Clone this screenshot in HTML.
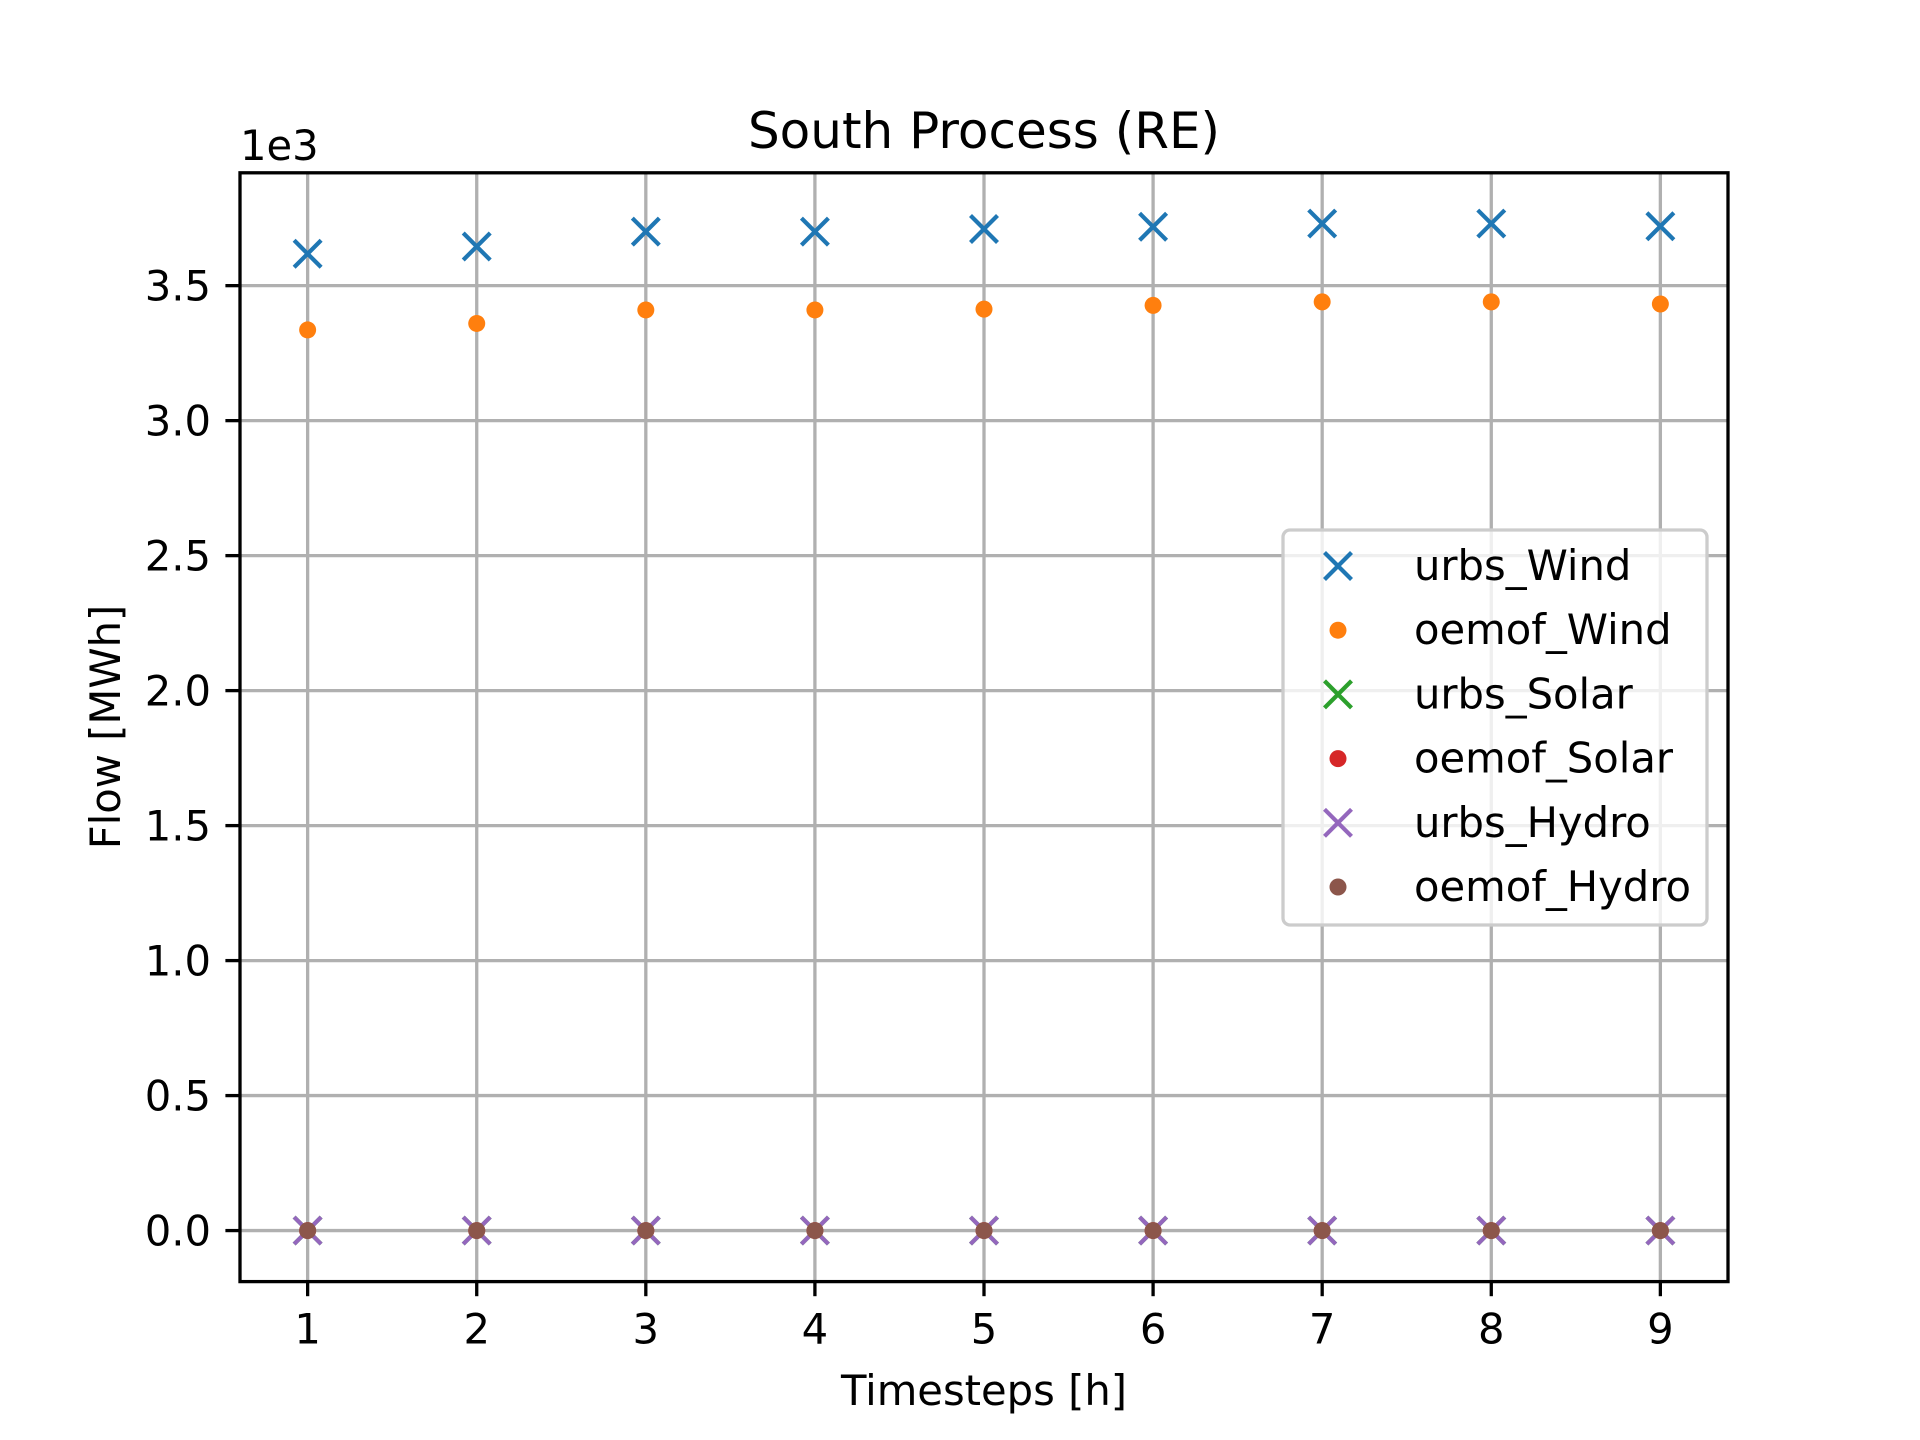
<!DOCTYPE html>
<html><head><meta charset="utf-8"><style>
html,body{margin:0;padding:0;background:#fff;}
svg{display:block;font-family:"DejaVu Sans","Liberation Sans",sans-serif;}
</style></head><body>
<svg id="chart" width="1920" height="1440" viewBox="0 0 1920 1440">
<rect x="0" y="0" width="1920" height="1440" fill="#fff"/>
<g id="grid"></g>
<g id="marks"></g>
<rect x="240" y="172.8" width="1488" height="1108.8" fill="none" stroke="#000" stroke-width="3.3"/>
<g id="ticks"></g>
<text x="984" y="148" font-size="50" text-anchor="middle">South Process (RE)</text>
<text x="240" y="160" font-size="41.7">1e3</text>
<text x="984" y="1405" font-size="41.7" text-anchor="middle">Timesteps [h]</text>
<text transform="translate(120,727) rotate(-90)" font-size="41.7" text-anchor="middle">Flow [MWh]</text>
<g id="legend"></g>
</svg>
<script>
const categories = [1,2,3,4,5,6,7,8,9];
const urbsWind = [3.618,3.645,3.70,3.70,3.71,3.718,3.73,3.73,3.72];
const oemofWind = [3.336,3.36,3.41,3.41,3.413,3.427,3.44,3.44,3.432];
const urbsSolar = [0,0,0,0,0,0,0,0,0];
const oemofSolar = [0,0,0,0,0,0,0,0,0];
const urbsHydro = [0,0,0,0,0,0,0,0,0];
const oemofHydro = [0,0,0,0,0,0,0,0,0];
const yTicks = [0,0.5,1,1.5,2,2.5,3,3.5];
const yTickLabels = ["0.0","0.5","1.0","1.5","2.0","2.5","3.0","3.5"];
const seriesNames = ["urbs_Wind","oemof_Wind","urbs_Solar","oemof_Solar","urbs_Hydro","oemof_Hydro"];

const NS="http://www.w3.org/2000/svg";
const L=240,R=1728,T=172.8,B=1281.6;
const xMin=0.6,xMax=9.4,yMin=-0.189,yMax=3.918;
function xs(v){return L+(v-xMin)/(xMax-xMin)*(R-L);}
function ys(v){return B-(v-yMin)/(yMax-yMin)*(B-T);}
function mk(tag,attrs,parent){const e=document.createElementNS(NS,tag);for(const k in attrs)e.setAttribute(k,attrs[k]);parent.appendChild(e);return e;}
const grid=document.getElementById('grid'),ticks=document.getElementById('ticks'),marks=document.getElementById('marks'),legend=document.getElementById('legend');

categories.forEach(c=>{
  const x=xs(c);
  const g=mk('line',{x1:x,x2:x,y1:T,y2:B,stroke:'#b0b0b0','stroke-width':3.3},grid);
  
  
  const t=mk('line',{x1:x,x2:x,y1:B,y2:B+14.6,stroke:'#000','stroke-width':3.3},ticks);
  
  
  const lb=mk('text',{x:x,y:B+62,'font-size':41.7,'text-anchor':'middle'},ticks);
  lb.textContent=String(c);
  
  
});
yTicks.forEach((v,i)=>{
  const y=ys(v);
  const g=mk('line',{x1:L,x2:R,y1:y,y2:y,stroke:'#b0b0b0','stroke-width':3.3},grid);
  
  
  const t=mk('line',{x1:L-14.6,x2:L,y1:y,y2:y,stroke:'#000','stroke-width':3.3},ticks);
  
  
  const lb=mk('text',{x:L-29,y:y+15,'font-size':41.7,'text-anchor':'end'},ticks);
  lb.textContent=yTickLabels[i];
  
  
});

function drawX(parent,x,y,color){
  const s=13.5;
  return mk('path',{d:`M${x-s},${y-s}L${x+s},${y+s}M${x-s},${y+s}L${x+s},${y-s}`,stroke:color,'stroke-width':4.2,fill:'none'},parent);
}
function drawDot(parent,x,y,color){
  return mk('circle',{cx:x,cy:y,r:8.5,fill:color},parent);
}
const series=[
  {vals:urbsWind,color:'#1f77b4',type:'x'},
  {vals:oemofWind,color:'#ff7f0e',type:'o'},
  {vals:urbsSolar,color:'#2ca02c',type:'x'},
  {vals:oemofSolar,color:'#d62728',type:'o'},
  {vals:urbsHydro,color:'#9467bd',type:'x'},
  {vals:oemofHydro,color:'#8c564b',type:'o'}
];
series.forEach((s,si)=>{
  s.vals.forEach((v,i)=>{
    const m = s.type==='x'?drawX(marks,xs(categories[i]),ys(v),s.color):drawDot(marks,xs(categories[i]),ys(v),s.color);
    
    
  });
});

const lbox=mk('rect',{x:1283,y:530,width:424,height:395,rx:7,fill:'#fff','fill-opacity':0.8,stroke:'#cccccc','stroke-width':3.3},legend);


series.forEach((s,si)=>{
  const y=566+si*64.2;
  const m = s.type==='x'?drawX(legend,1338,y,s.color):drawDot(legend,1338,y,s.color);
  
  
  const t=mk('text',{x:1414,y:y+14,'font-size':41.7},legend);
  t.textContent=seriesNames[si];
  
  
});
</script>
</body></html>
